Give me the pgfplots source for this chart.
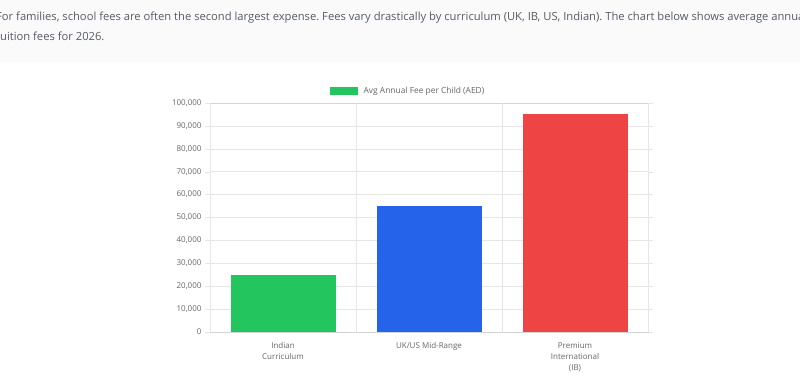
\documentclass[border=0pt]{standalone}
\usepackage{fontspec}
\setmainfont{Open Sans}
\usepackage{pgfplots}
\pgfplotsset{compat=1.18}
\frenchspacing
\definecolor{cgreen}{HTML}{22C55E}
\definecolor{cblue}{HTML}{2563EB}
\definecolor{cred}{HTML}{EF4444}
\definecolor{txt}{HTML}{666666}
\definecolor{gridc}{HTML}{E6E6E6}
\definecolor{head}{HTML}{555B66}
\begin{document}
\begin{tikzpicture}[x=1pt,y=1pt]
\useasboundingbox (0,0) rectangle (800,391);
\fill[white] (0,0) rectangle (800,391);
\fill[black!2] (0,329) rectangle (800,391);
\begin{scope}
\clip (0,0) rectangle (800,391);
\node[anchor=base west, font=\fontsize{11.2}{12}\selectfont, text=head, inner sep=0] at (-4,370) {For families, school fees are often the second largest expense. Fees vary drastically by curriculum (UK, IB, US, Indian). The chart below shows average annual};
\node[anchor=base west, font=\fontsize{11.2}{12}\selectfont, text=head, inner sep=0] at (-4,350) {tuition fees for 2026.};
\end{scope}
\begin{axis}[
  at={(210pt,59pt)}, anchor=south west,
  scale only axis, width=438pt, height=229pt,
  xmin=-0.5, xmax=2.5, ymin=0, ymax=100000,
  axis line style={gridc!80!black!60},
  ytick={0,10000,...,100000},
  scaled y ticks=false,
  yticklabel style={/pgf/number format/.cd, fixed, 1000 sep={,}, assume math mode=true},
  ticklabel style={font=\fontsize{8}{11}\selectfont, text=txt},
  ymajorgrids, grid style={gridc},
  tick align=outside,
  major tick style={gridc},
  ytick style={gridc}, 
  major tick length=5pt,
  xtick={0,1,2},
  xticklabels={{Indian\\Curriculum},{UK/US Mid-Range},{Premium\\International\\(IB)}},
  xticklabel style={align=center, yshift=-2pt},
  xtick style={draw=none},
  extra x ticks={-0.5,0.5,1.5,2.5},
  extra x tick labels={},
  extra x tick style={grid=major, major tick length=8pt, tick style={gridc, draw=gridc}},
  legend style={at={(0.452,1)}, anchor=center, yshift=12pt, draw=none, fill=none,
    font=\fontsize{8.4}{10}\selectfont, text=txt, inner sep=1pt},
  legend image code/.code={\fill[cgreen] (0pt,-4pt) rectangle (28pt,4pt); \path (32pt,0pt);},
]
\addplot[ybar, bar width=105pt, bar shift=0pt, fill=cgreen, draw=none] coordinates {(0,25000)};
\addlegendentry{Avg Annual Fee per Child (AED)}
\addplot[ybar, bar width=105pt, bar shift=0pt, fill=cblue, draw=none, forget plot] coordinates {(1,55000)};
\addplot[ybar, bar width=105pt, bar shift=0pt, fill=cred, draw=none, forget plot] coordinates {(2,95000)};
\end{axis}
\end{tikzpicture}
\end{document}
